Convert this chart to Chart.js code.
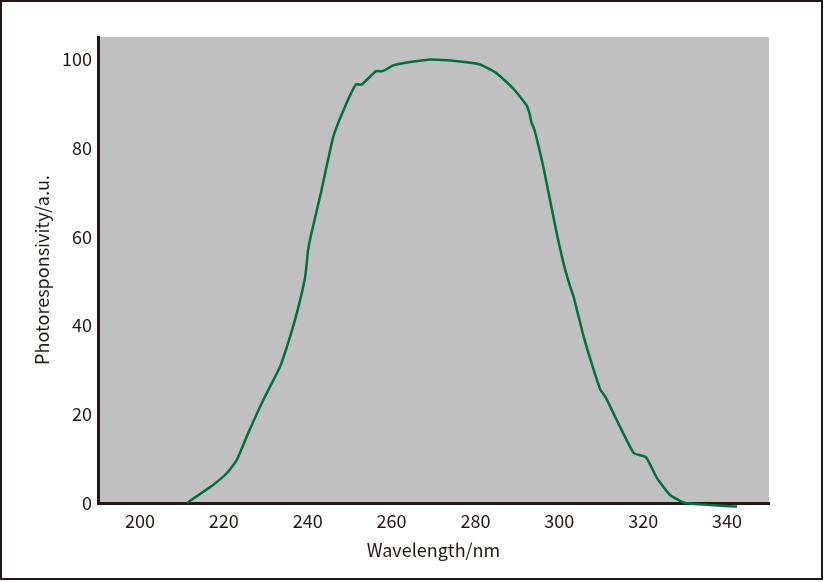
<!DOCTYPE html>
<html>
<head>
<meta charset="utf-8">
<script src="https://cdn.jsdelivr.net/npm/chart.js@4/dist/chart.umd.min.js"></script>
<style>
  html, body { margin: 0; padding: 0; background: #fff; }
  #frame {
    position: absolute; left: 0; top: 0;
    width: 819px; height: 576px;
    border: 2px solid #231815;
  }
  #wrap { position: absolute; left: 0; top: 0; width: 825px; height: 582px; }
</style>
</head>
<body>
<div id="frame"></div>
<div id="wrap"><canvas id="c"></canvas></div>
<script>
// wavelength (nm) and photoresponsivity (a.u.)
var wavelengths = [211.2, 214.3, 217.5, 220.7, 223.1, 225.8, 229.4, 233.4,
  235.8, 237.8, 239.4, 240.1, 240.7, 243.3, 246.1, 248.9, 251.5, 252.9,
  256.3, 257.9, 260.4, 264.0, 268.8, 276.3, 281.1, 285.1, 289.0, 292.2,
  293.0, 293.3, 294.1, 296.2, 297.8, 299.4, 301.0, 302.6, 303.4, 305.8,
  308.2, 309.8, 311.0, 317.7, 320.7, 323.3, 326.4, 330.0, 342.4];
var responsivity = [0, 2.0, 4.1, 6.7, 9.7, 15.7, 23.2, 30.7,
  37.5, 44.2, 51.0, 57.0, 60.0, 70.5, 82.5, 89.3, 94.3, 94.3,
  97.3, 97.3, 98.6, 99.3, 99.9, 99.5, 98.8, 96.8, 93.4, 89.6,
  87.4, 85.9, 84.0, 75.7, 68.2, 60.7, 54.0, 48.7, 46.5, 37.5,
  30.0, 25.5, 23.9, 11.3, 10.3, 5.6, 1.8, 0, -0.8];
var xTicks = [200, 220, 240, 260, 280, 300, 320, 340];
var yTicks = [0, 20, 40, 60, 80, 100];

var ink = '#231815';
var font = 'Noto Sans CJK SC';

var points = wavelengths.map(function(w, i) { return { x: w, y: responsivity[i] }; });

var plotBg = {
  id: 'plotBg',
  beforeDraw: function(chart) {
    var a = chart.chartArea;
    var ctx = chart.ctx;
    ctx.save();
    ctx.fillStyle = '#c0c0c0';
    ctx.fillRect(a.left, a.top, a.right - a.left, a.bottom - a.top);
    ctx.restore();
  }
};

new Chart(document.getElementById('c'), {
  type: 'line',
  data: {
    datasets: [{
      data: points,
      borderColor: '#00703c',
      borderWidth: 2.5,
      pointRadius: 0,
      fill: false,
      tension: 0.15,
      clip: false
    }]
  },
  options: {
    responsive: true,
    maintainAspectRatio: false,
    animation: false,
    layout: { padding: { left: 0, top: 37, right: 56, bottom: 0 } },
    plugins: { legend: { display: false }, tooltip: { enabled: false } },
    scales: {
      x: {
        type: 'linear',
        min: 190,
        max: 350,
        afterBuildTicks: function(s) { s.ticks = xTicks.map(function(v) { return { value: v }; }); },
        afterFit: function(s) { s.height = 79; },
        grid: { display: false, drawTicks: false },
        border: { display: true, color: ink, width: 3 },
        ticks: { color: ink, padding: 7, font: { family: font, size: 18 } },
        title: {
          display: true,
          text: 'Wavelength/nm',
          color: ink,
          font: { family: font, size: 18 },
          padding: { top: 0, bottom: 21 }
        }
      },
      y: {
        min: 0,
        max: 105,
        afterBuildTicks: function(s) { s.ticks = yTicks.map(function(v) { return { value: v }; }); },
        afterFit: function(s) { s.width = 98; },
        grid: { display: false, drawTicks: false },
        border: { display: true, color: ink, width: 3 },
        ticks: { color: ink, padding: 6, font: { family: font, size: 18 } },
        title: {
          display: true,
          text: 'Photoresponsivity/a.u.',
          color: ink,
          font: { family: font, size: 18 },
          padding: { top: 31, bottom: 0 }
        }
      }
    }
  },
  plugins: [plotBg]
});
</script>
</body>
</html>
